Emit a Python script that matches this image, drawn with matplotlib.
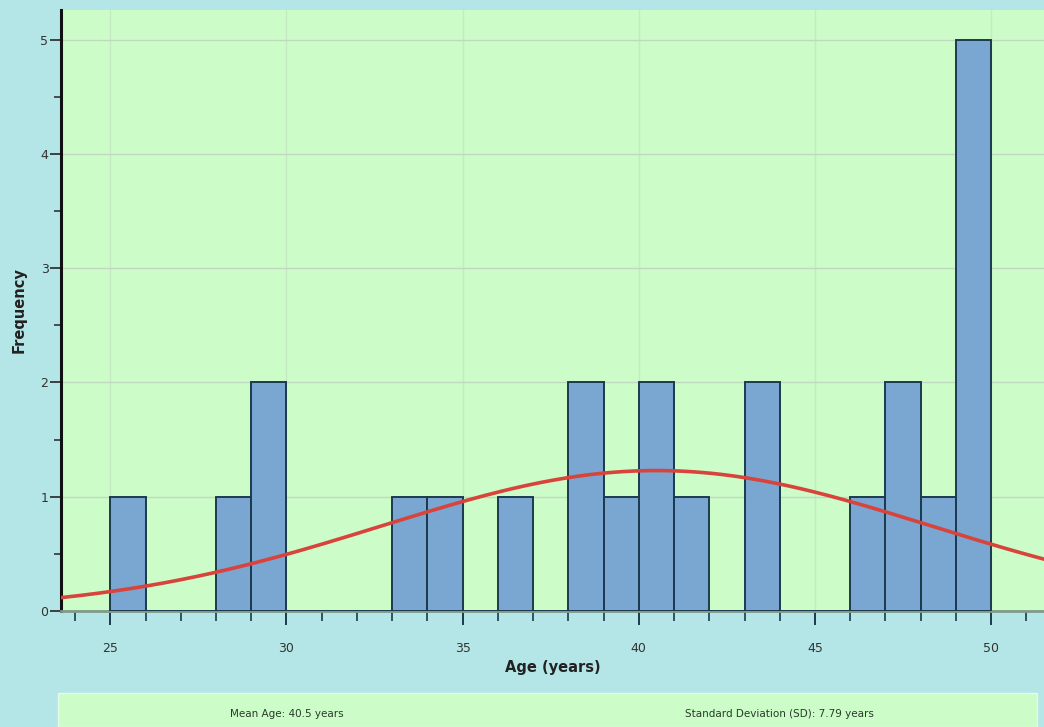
import numpy as np
import matplotlib.pyplot as plt
from matplotlib.patches import Rectangle

# Histogram data (bins of 1 year, left edges)
bin_left = list(range(25, 50))
counts = [1, 0, 0, 1, 2, 0, 0, 0, 1, 1, 0, 1, 0, 2, 1,
          2, 1, 0, 2, 0, 0, 1, 2, 1, 5]
mean_age = 40.5
sd_age = 7.79
x_ticks = [25, 30, 35, 40, 45, 50]
y_ticks = [0, 1, 2, 3, 4, 5]

bg = '#b4e6e8'
plot_bg = '#ccfdc9'
bar_color = '#7aa6d2'
edge_color = '#1c3a4e'

fig = plt.figure(figsize=(10.44, 7.27), dpi=100)
fig.patch.set_facecolor(bg)
ax = fig.add_axes([0.0584, 0.1596, 0.9416, 0.8266])
ax.set_facecolor(plot_bg)

ax.bar(bin_left, counts, width=1.0, align='edge', color=bar_color,
       edgecolor=edge_color, linewidth=1.4, zorder=3)

# fitted normal curve
n = sum(counts)
xs = np.linspace(23.6, 51.5, 300)
ys = n * np.exp(-0.5 * ((xs - mean_age) / sd_age) ** 2) / (sd_age * np.sqrt(2 * np.pi))
ax.plot(xs, ys, color='#d8443c', linewidth=2.6, zorder=4)

ax.set_xlim(23.6, 51.5)
ax.set_ylim(0, 5.26)
ax.set_xticks(x_ticks)
ax.set_xticks(np.arange(24, 52, 1), minor=True)
ax.set_yticks(y_ticks)
ax.set_yticks(np.arange(0.5, 5.5, 1), minor=True)

ax.grid(axis='y', which='major', color='#c0d8bf', linewidth=1, zorder=0)
ax.grid(axis='x', which='major', color='#c3eac2', linewidth=1, zorder=0)

for s in ['top', 'right']:
    ax.spines[s].set_visible(False)
ax.spines['left'].set_linewidth(2.2)
ax.spines['left'].set_color('#111111')
ax.spines['bottom'].set_linewidth(2)
ax.spines['bottom'].set_color('#7f9a8a')

ax.tick_params(axis='x', which='major', length=10, width=1.4, color='#1c3a4e',
               labelsize=9, labelcolor='#333333', pad=12)
ax.tick_params(axis='x', which='minor', length=7, width=1.2, color='#1c3a4e')
ax.tick_params(axis='y', which='major', length=8, width=1.3, color='#333333',
               labelsize=9, labelcolor='#333333', pad=1)
ax.tick_params(axis='y', which='minor', length=5, width=1.2, color='#333333')

ax.set_xlabel('Age (years)', fontsize=10.5, fontweight='bold', color='#222222', labelpad=4)
ax.set_ylabel('Frequency', fontsize=10.5, fontweight='bold', color='#222222', labelpad=10)

# stats box below chart
fig.patches.append(Rectangle((58 / 1044, 0), (1037 - 58) / 1044, 34 / 727,
                             transform=fig.transFigure, facecolor=plot_bg,
                             edgecolor='#e4fbe4', linewidth=1))
fig.text(287 / 1044, 13 / 727, 'Mean Age: 40.5 years', ha='center', va='center',
         fontsize=7.5, color='#2a3a2a')
fig.text(779 / 1044, 13 / 727, 'Standard Deviation (SD): 7.79 years', ha='center',
         va='center', fontsize=7.5, color='#2a3a2a')

fig.savefig('out.png', dpi=100, facecolor=bg)
